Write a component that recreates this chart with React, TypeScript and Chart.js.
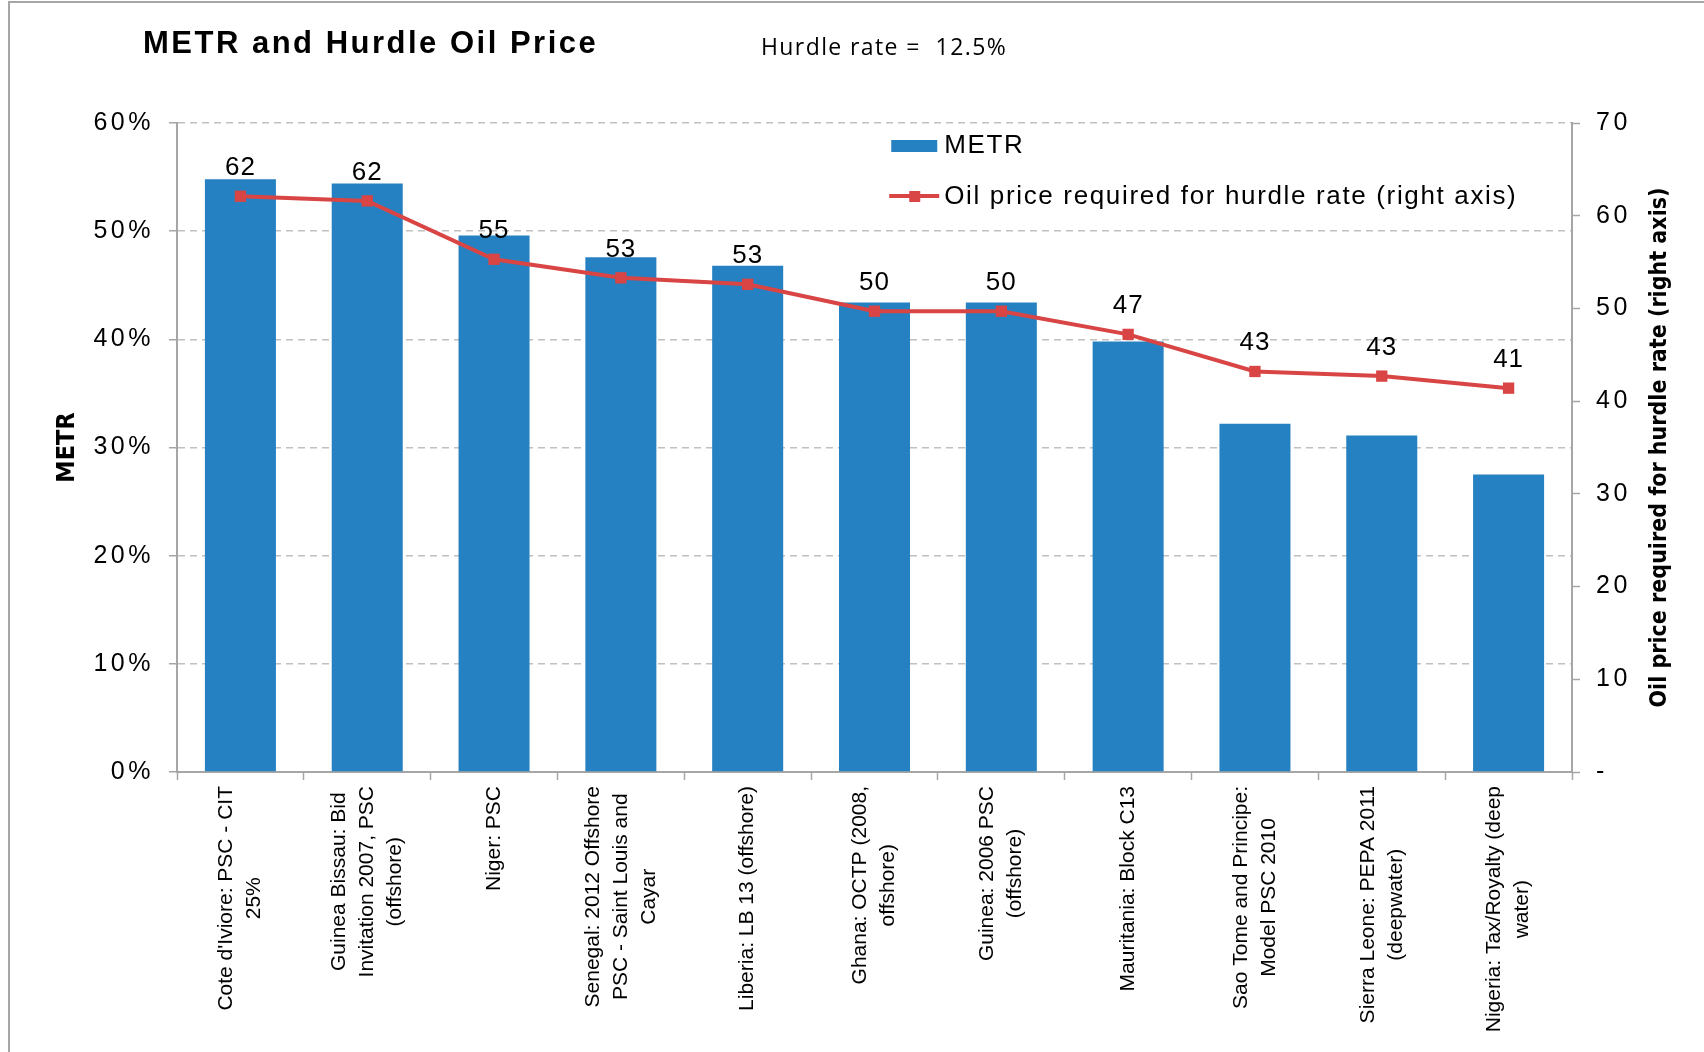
import React, { useEffect, useRef } from "react";
import { Chart, registerables } from "chart.js";

Chart.register(...registerables);

const categories: string[][] = [
  ["Cote d'Iviore: PSC - CIT", "25%"],
  ["Guinea Bissau: Bid", "Invitation 2007, PSC", "(offshore)"],
  ["Niger: PSC"],
  ["Senegal: 2012 Offshore", "PSC - Saint Louis and", "Cayar"],
  ["Liberia: LB 13 (offshore)"],
  ["Ghana: OCTP (2008,", "offshore)"],
  ["Guinea: 2006 PSC", "(offshore)"],
  ["Mauritania: Block C13"],
  ["Sao Tome and Principe:", "Model PSC 2010"],
  ["Sierra Leone: PEPA 2011", "(deepwater)"],
  ["Nigeria: Tax/Royalty (deep", "water)"],
];

const metrValues = [54.8, 54.4, 49.6, 47.6, 46.8, 43.4, 43.4, 39.8, 32.2, 31.1, 27.5];
const oilPriceValues = [62.1, 61.6, 55.3, 53.3, 52.6, 49.7, 49.7, 47.2, 43.2, 42.7, 41.4];

const leftTicks = [0, 10, 20, 30, 40, 50, 60];
const rightTicks = [0, 10, 20, 30, 40, 50, 60, 70];

const titleText = "METR and Hurdle Oil Price";
const subtitleText = "Hurdle rate =  12.5%";
const leftAxisTitle = "METR";
const rightAxisTitle = "Oil price required for hurdle rate (right axis)";
const seriesNames = ["METR", "Oil price required for hurdle rate (right axis)"];

const BAR_COLOR = "#2581C1";
const LINE_COLOR = "#D94545";
const AXIS_COLOR = "#A6A6A6";
const GRID_COLOR = "#C0C0C0";
const FONT = "'Liberation Sans', Arial, Helvetica, sans-serif";
const NARROW = "'Liberation Sans Narrow', 'DejaVu Sans Condensed', 'Liberation Sans', Arial, sans-serif";

const spacingPlugin = {
  id: "spacing",
  beforeDraw(chart: any) {
    (chart.ctx as any).letterSpacing = "3.5px";
  },
};

const customDraw = {
  id: "customDraw",
  afterDraw(chart: any) {
    const ctx = chart.ctx as CanvasRenderingContext2D;
    (ctx as any).letterSpacing = "0px";
    const area = chart.chartArea;
    const xScale = chart.scales.x;

    // X category labels, centred lines, rotated
    ctx.save();
    (ctx as any).letterSpacing = "0px";
    ctx.fillStyle = "#000";
    ctx.font = `21px ${FONT}`;
    const lh = 28;
    const yTop = area.bottom + 14;
    categories.forEach((lines, i) => {
      const x = xScale.getPixelForTick(i);
      const widths = lines.map((l) => ctx.measureText(l).width);
      const W = Math.max(...widths);
      ctx.save();
      ctx.translate(x, yTop);
      ctx.rotate(-Math.PI / 2);
      ctx.textAlign = "center";
      ctx.textBaseline = "middle";
      const n = lines.length;
      lines.forEach((l, k) => {
        ctx.fillText(l, -W / 2, (k - (n - 1) / 2) * lh);
      });
      ctx.restore();
    });
    ctx.restore();

    // Data labels on line points
    const meta = chart.getDatasetMeta(1);
    ctx.save();
    (ctx as any).letterSpacing = "1px";
    ctx.fillStyle = "#000";
    ctx.font = `26px ${FONT}`;
    ctx.textAlign = "center";
    ctx.textBaseline = "alphabetic";
    meta.data.forEach((pt: any, i: number) => {
      ctx.fillText(String(Math.round(oilPriceValues[i])), pt.x, pt.y - 21);
    });
    ctx.restore();

    // Legend
    ctx.save();
    const lx = area.left + (area.right - area.left) * 0.512;
    const r1 = area.top + 22;
    const r2 = area.top + 73;
    ctx.fillStyle = BAR_COLOR;
    ctx.fillRect(lx, r1 - 5, 46, 12);
    ctx.strokeStyle = LINE_COLOR;
    ctx.lineWidth = 4;
    ctx.beginPath();
    ctx.moveTo(lx - 2, r2);
    ctx.lineTo(lx + 48, r2);
    ctx.stroke();
    ctx.fillStyle = LINE_COLOR;
    ctx.fillRect(lx + 23 - 5, r2 - 5, 11, 11);
    ctx.fillStyle = "#000";
    ctx.font = `26px ${FONT}`;
    (ctx as any).letterSpacing = "1.65px";
    ctx.textAlign = "left";
    ctx.textBaseline = "middle";
    ctx.fillText(seriesNames[0], lx + 53, r1 + 1);
    ctx.fillText(seriesNames[1], lx + 53, r2 + 1);
    ctx.restore();

    // Axis titles
    const cy = (area.top + area.bottom) / 2;
    ctx.save();
    (ctx as any).letterSpacing = "0px";
    ctx.fillStyle = "#000";
    ctx.font = `bold 25px ${NARROW}`;
    ctx.textAlign = "center";
    ctx.textBaseline = "middle";
    ctx.translate(59, cy);
    ctx.rotate(-Math.PI / 2);
    ctx.fillText(leftAxisTitle, 0, 0);
    ctx.restore();

    ctx.save();
    (ctx as any).letterSpacing = "0px";
    ctx.fillStyle = "#000";
    ctx.font = `bold 23px ${NARROW}`;
    ctx.textAlign = "center";
    ctx.textBaseline = "middle";
    ctx.translate(area.right + 88, cy);
    ctx.rotate(-Math.PI / 2);
    ctx.fillText(rightAxisTitle, 0, 0);
    ctx.restore();
  },
};

export default function App() {
  const canvasRef = useRef<HTMLCanvasElement | null>(null);

  useEffect(() => {
    if (!canvasRef.current) return;
    const chart = new Chart(canvasRef.current, {
      type: "bar",
      data: {
        labels: categories.map((c) => c.join(" ")),
        datasets: [
          {
            type: "bar",
            label: seriesNames[0],
            data: metrValues,
            backgroundColor: BAR_COLOR,
            borderWidth: 0,
            barPercentage: 0.56,
            categoryPercentage: 1,
            yAxisID: "y",
            order: 2,
          },
          {
            type: "line",
            label: seriesNames[1],
            data: oilPriceValues,
            borderColor: LINE_COLOR,
            backgroundColor: LINE_COLOR,
            borderWidth: 4,
            pointStyle: "rect",
            pointRadius: 8,
            pointBorderWidth: 0,
            pointBackgroundColor: LINE_COLOR,
            tension: 0,
            yAxisID: "y1",
            order: 1,
          },
        ],
      },
      options: {
        animation: false,
        responsive: true,
        maintainAspectRatio: false,
        layout: { padding: { left: 0, right: 22, top: 122, bottom: 9 } },
        plugins: {
          legend: { display: false },
          title: { display: false },
          tooltip: { enabled: false },
        },
        scales: {
          x: {
            afterFit: (s: any) => {
              s.height = 260;
            },
            ticks: { display: false },
            grid: {
              offset: true,
              drawOnChartArea: false,
              drawTicks: true,
              tickLength: 8,
              tickColor: AXIS_COLOR,
              tickWidth: 1.5,
            },
            border: { display: true, color: AXIS_COLOR, width: 2 },
          },
          y: {
            position: "left",
            min: 0,
            max: 60,
            afterFit: (s: any) => {
              s.width = 169;
            },
            afterBuildTicks: (s: any) => {
              s.ticks = leftTicks.map((v) => ({ value: v }));
            },
            ticks: {
              color: "#000",
              font: { size: 25, family: FONT },
              padding: 15,
              callback: (v: any) => `${v}%`,
            },
            grid: {
              color: GRID_COLOR,
              lineWidth: 1.5,
              drawTicks: true,
              tickLength: 8,
              tickColor: AXIS_COLOR,
              tickWidth: 1.5,
              tickBorderDash: [],
            },
            border: { display: true, color: AXIS_COLOR, width: 2, dash: [7, 5] },
          },
          y1: {
            position: "right",
            min: 0,
            max: 70,
            afterFit: (s: any) => {
              s.width = 110;
            },
            afterBuildTicks: (s: any) => {
              s.ticks = rightTicks.map((v) => ({ value: v }));
            },
            ticks: {
              color: "#000",
              font: { size: 25, family: FONT },
              padding: 16,
              callback: (v: any) => (v === 0 ? "-" : `${v}`),
            },
            grid: {
              drawOnChartArea: false,
              drawTicks: true,
              tickLength: 8,
              tickColor: AXIS_COLOR,
              tickWidth: 1.5,
            },
            border: { display: true, color: AXIS_COLOR, width: 2 },
          },
        },
      },
      plugins: [spacingPlugin, customDraw],
    });
    return () => chart.destroy();
  }, []);

  return (
    <div
      style={{
        position: "relative",
        width: 1696,
        height: 1040,
        marginTop: -7,
        overflow: "hidden",
      }}
    >
      <div
        style={{
          position: "fixed",
          left: 8,
          top: 1,
          width: 1696,
          height: 1051,
          borderLeft: "2px solid #A6A6A6",
          borderTop: "2px solid #A6A6A6",
          boxSizing: "border-box",
          pointerEvents: "none",
        }}
      />
      <div
        style={{
          position: "absolute",
          left: 135,
          top: 24,
          fontFamily: FONT,
          fontWeight: "bold",
          fontSize: 31,
          letterSpacing: 2.5,
          color: "#000",
          whiteSpace: "nowrap",
          lineHeight: "36px",
        }}
      >
        {titleText}
      </div>
      <div
        style={{
          position: "absolute",
          left: 753,
          top: 31,
          fontFamily: "'Open Sans', sans-serif",
          fontSize: 23,
          letterSpacing: 1.4,
          color: "#000",
          whiteSpace: "pre",
          lineHeight: "28px",
        }}
      >
        {subtitleText}
      </div>
      <div style={{ position: "absolute", left: 0, top: 0, width: 1696, height: 1040 }}>
        <canvas ref={canvasRef} />
      </div>
    </div>
  );
}
